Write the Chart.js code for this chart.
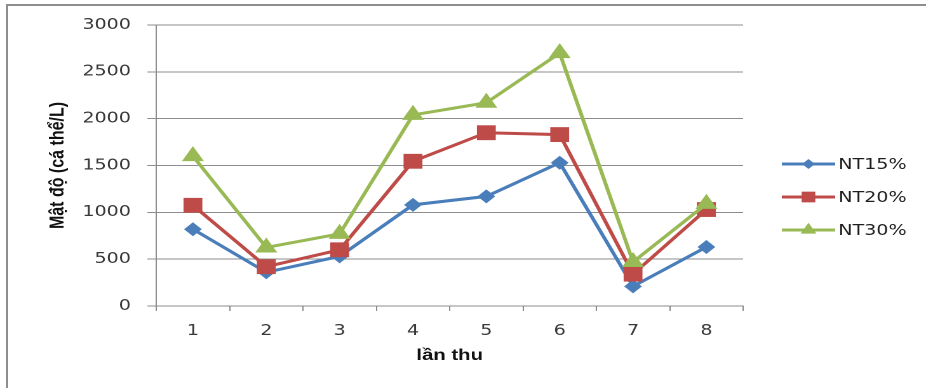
<!DOCTYPE html>
<html>
<head>
<meta charset="utf-8">
<script src="https://cdn.jsdelivr.net/npm/chart.js@4/dist/chart.umd.min.js"></script>
<style>
  html, body { margin: 0; padding: 0; background: #fff; overflow: hidden; }
  #wrap { position: relative; width: 926px; height: 388px; overflow: hidden; background: #fff; }
  #frame { position: absolute; left: 6px; top: 4px; right: -4px; bottom: -4px;
           border-top: 2px solid #8e8e8e; border-left: 2px solid #8e8e8e; }
  #stage { position: absolute; left: 0; top: 0; width: 729px; height: 388px;
           transform: scaleX(1.2702); transform-origin: 0 0; }
</style>
</head>
<body>
<div id="wrap">
  <div id="frame"></div>
  <div id="stage"><canvas id="c" width="729" height="388"></canvas></div>
</div>
<script>
// Sampling rounds (lần thu)
const categories = ['1', '2', '3', '4', '5', '6', '7', '8'];

// Density (individuals per litre) for each treatment
const nt15 = [820, 360, 530, 1080, 1170, 1530, 210, 630];
const nt20 = [1075, 420, 600, 1545, 1850, 1830, 340, 1030];
const nt30 = [1600, 625, 770, 2040, 2170, 2700, 470, 1090];

const seriesNames = ['NT15%', 'NT20%', 'NT30%'];
const seriesColors = ['#4A7EBB', '#BE4B48', '#98B954'];
const seriesMarkers = ['rectRot', 'rect', 'triangle'];
const seriesRadius = [7, 10.5, 10];

// Value axis
const yMin = 0;
const yMax = 3000;
const yStep = 500;

const tickFont = { family: '"DejaVu Sans", Verdana, sans-serif', size: 15 };
const titleFont = { family: '"Liberation Sans", Arial, sans-serif', size: 16, weight: 'bold' };
const axisGray = '#8c8c8c';
const tickColor = '#383838';

function drawMarker(ctx, style, x, y, r, color) {
  ctx.fillStyle = color;
  ctx.beginPath();
  if (style === 'rectRot') {
    ctx.moveTo(x - r, y); ctx.lineTo(x, y - r); ctx.lineTo(x + r, y); ctx.lineTo(x, y + r);
  } else if (style === 'rect') {
    const s = r * Math.SQRT1_2;
    ctx.rect(x - s, y - s, 2 * s, 2 * s);
  } else {
    ctx.moveTo(x, y - r);
    ctx.lineTo(x + r * 0.866, y + r * 0.5);
    ctx.lineTo(x - r * 0.866, y + r * 0.5);
  }
  ctx.closePath();
  ctx.fill();
}

// Legend on the right: a short line with the series marker, then the name
const sideLegend = {
  id: 'sideLegend',
  afterDraw(chart) {
    const ctx = chart.ctx;
    const x0 = 615.5, x1 = 657.5, tx = 660;
    const rows = [164, 197, 230];
    chart.data.datasets.forEach((ds, i) => {
      const y = rows[i];
      ctx.save();
      ctx.strokeStyle = ds.borderColor;
      ctx.lineWidth = 3;
      ctx.beginPath();
      ctx.moveTo(x0, y);
      ctx.lineTo(x1, y);
      ctx.stroke();
      drawMarker(ctx, ds.pointStyle, (x0 + x1) / 2, y, ds.pointRadius * 0.72, ds.backgroundColor);
      ctx.fillStyle = '#1e1e1e';
      ctx.font = '15px "DejaVu Sans", Verdana, sans-serif';
      ctx.textBaseline = 'middle';
      ctx.textAlign = 'left';
      ctx.fillText(ds.label, tx, y + 1);
      ctx.restore();
    });
  }
};

const seriesData = [nt15, nt20, nt30];
const datasets = seriesData.map((values, i) => ({
  label: seriesNames[i],
  data: values,
  borderColor: seriesColors[i],
  backgroundColor: seriesColors[i],
  borderWidth: 3,
  pointStyle: seriesMarkers[i],
  pointRadius: seriesRadius[i],
  pointHoverRadius: seriesRadius[i],
  pointBorderWidth: 0,
  tension: 0,
  order: 3 - i
}));

new Chart(document.getElementById('c'), {
  type: 'line',
  data: { labels: categories, datasets },
  options: {
    responsive: false,
    animation: false,
    devicePixelRatio: 2,
    events: [],
    layout: { padding: { top: 25, right: 144, bottom: 0, left: 0 } },
    plugins: { legend: { display: false }, tooltip: { enabled: false } },
    scales: {
      x: {
        type: 'category',
        offset: true,
        grid: { offset: true, drawOnChartArea: false, drawTicks: true, tickLength: 5, color: axisGray, lineWidth: 1 },
        border: { color: axisGray, width: 1 },
        ticks: { font: tickFont, color: tickColor, padding: 11, maxRotation: 0 },
        title: { display: true, text: 'lần thu', font: titleFont, color: '#111', padding: { top: 0, bottom: 23 } },
        afterFit(scale) { scale.height = 82; }
      },
      y: {
        min: yMin,
        max: yMax,
        ticks: { stepSize: yStep, padding: 13, font: tickFont, color: tickColor,
                 callback: (value) => String(value) },
        grid: { color: axisGray, lineWidth: 1, tickLength: 7 },
        border: { color: axisGray, width: 1 },
        title: { display: true, text: 'Mật độ (cá thể/L)', font: titleFont, color: '#111', padding: { top: 36, bottom: 0 } },
        afterFit(scale) { scale.width = 123; }
      }
    }
  },
  plugins: [sideLegend]
});
</script>
</body>
</html>
